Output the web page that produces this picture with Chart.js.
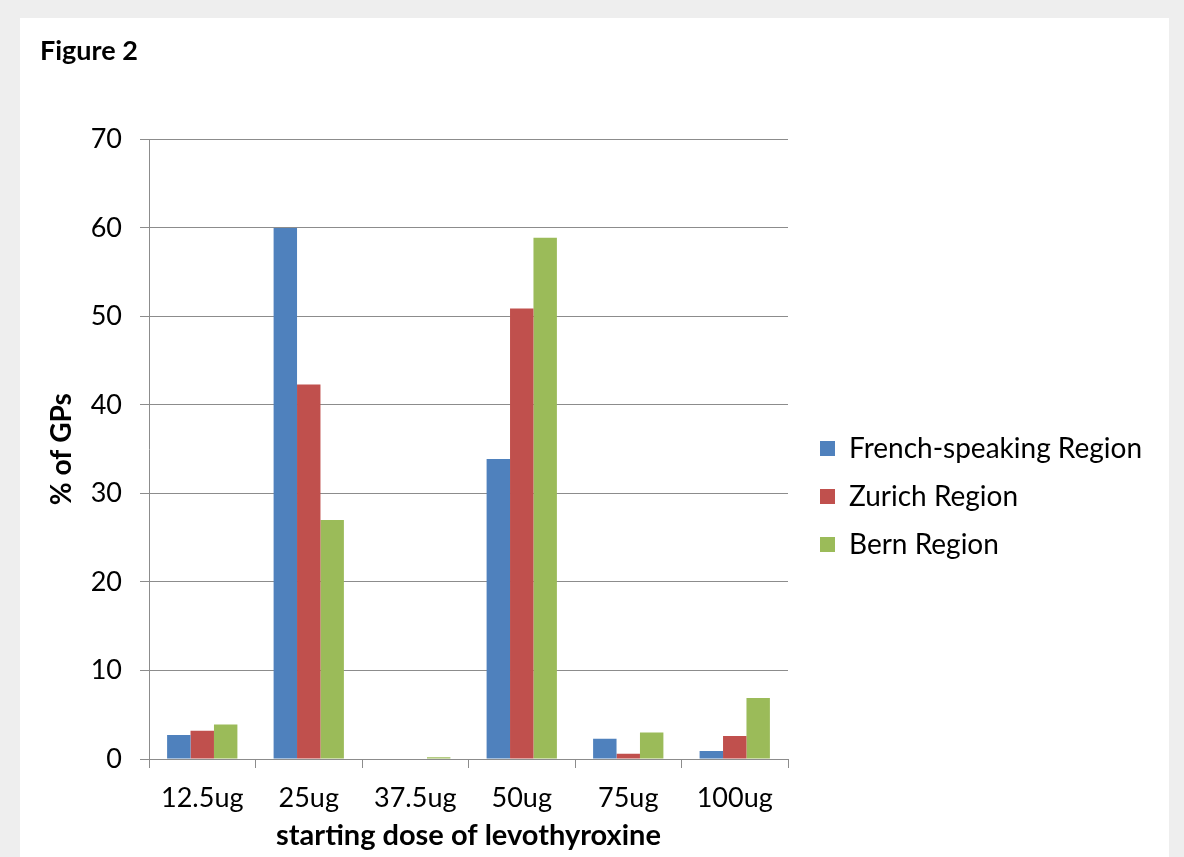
<!DOCTYPE html>
<html>
<head>
<meta charset="utf-8">
<script src="https://cdn.jsdelivr.net/npm/chart.js@4.4.0/dist/chart.umd.min.js"></script>
<style>
  html, body { margin: 0; padding: 0; background: #eeeeee; }
  #panel { position: absolute; left: 20px; top: 18px; width: 1149px; height: 839px; background: #ffffff; }
</style>
</head>
<body>
<div id="panel"><canvas id="myChart" width="1149" height="839"></canvas></div>
<script>
const doses = ['12.5ug', '25ug', '37.5ug', '50ug', '75ug', '100ug'];
const regions = ['French-speaking Region', 'Zurich Region', 'Bern Region'];
const french = [2.7, 60, 0, 33.9, 2.3, 0.9];
const zurich = [3.2, 42.3, 0, 50.9, 0.6, 2.6];
const bern = [3.9, 27.0, 0.2, 58.9, 3.0, 6.9];
const yTicks = [0, 10, 20, 30, 40, 50, 60, 70];

const ctx = document.getElementById('myChart');
const fontName = 'Lato';
const gridGrey = '#8c8c8c';
const legendSize = 28;
const legendPad = 20;

Promise.all([
    document.fonts.load('27px Lato'),
    document.fonts.load('bold 27px Lato')
]).then(createChart, createChart);

function createChart() {
    // width the legend will ask for, so the plot area ends where the reference has it
    const m = document.createElement('canvas').getContext('2d');
    m.font = legendSize + 'px ' + fontName;
    const textW = Math.max(...regions.map(r => m.measureText(r).width));
    const legendW = legendPad + 15 + legendSize / 2 + textW + 10;
    const rightPad = Math.max(0, 1149 - 768 - 12 - legendW);

    new Chart(ctx, {
        type: 'bar',
        data: {
            labels: doses,
            datasets: [
                { label: regions[0], data: french, backgroundColor: '#4f81bd' },
                { label: regions[1], data: zurich, backgroundColor: '#c0504d' },
                { label: regions[2], data: bern, backgroundColor: '#9bbb59' }
            ]
        },
        options: {
            responsive: false,
            animation: false,
            layout: { padding: { left: 20, right: rightPad, top: 0, bottom: 0 } },
            datasets: {
                bar: { categoryPercentage: 0.66, barPercentage: 1.0 }
            },
            plugins: {
                title: {
                    display: true,
                    text: 'Figure 2',
                    align: 'start',
                    color: '#000',
                    font: { family: fontName, size: 27, weight: 'bold' },
                    padding: { top: 17, bottom: 72 }
                },
                legend: {
                    position: 'right',
                    maxWidth: legendW + 2,
                    title: { display: true, text: ' ', font: { size: 20 }, padding: 47 },
                    labels: {
                        color: '#000',
                        font: { family: fontName, size: legendSize },
                        boxWidth: 15,
                        boxHeight: 15,
                        padding: legendPad
                    }
                },
                tooltip: { enabled: false }
            },
            scales: {
                x: {
                    grid: { display: true, drawOnChartArea: false, drawTicks: true, tickLength: 9, color: gridGrey },
                    border: { color: gridGrey },
                    ticks: { color: '#000', font: { family: fontName, size: 27 }, padding: 14 },
                    title: {
                        display: true,
                        text: 'starting dose of levothyroxine',
                        color: '#000',
                        font: { family: fontName, size: 29, weight: 'bold' },
                        padding: { top: 0, bottom: 4 }
                    },
                    afterFit: function (scale) { scale.height = 98; }
                },
                y: {
                    min: 0,
                    max: 70,
                    afterBuildTicks: function (scale) {
                        scale.ticks = yTicks.map(v => ({ value: v }));
                    },
                    grid: { color: gridGrey, tickLength: 9 },
                    border: { color: gridGrey },
                    ticks: { color: '#000', font: { family: fontName, size: 27 }, padding: 18 },
                    title: {
                        display: true,
                        text: '% of GPs',
                        color: '#000',
                        font: { family: fontName, size: 28, weight: 'bold' },
                        padding: { top: 5, bottom: 0 }
                    },
                    afterFit: function (scale) { scale.width = 109; }
                },
                // empty spacer between plot and legend
                gap: {
                    type: 'linear',
                    position: 'right',
                    display: true,
                    grid: { display: false },
                    border: { display: false },
                    ticks: { display: false },
                    afterFit: function (scale) { scale.width = 12; }
                }
            }
        }
    });
}
</script>
</body>
</html>
